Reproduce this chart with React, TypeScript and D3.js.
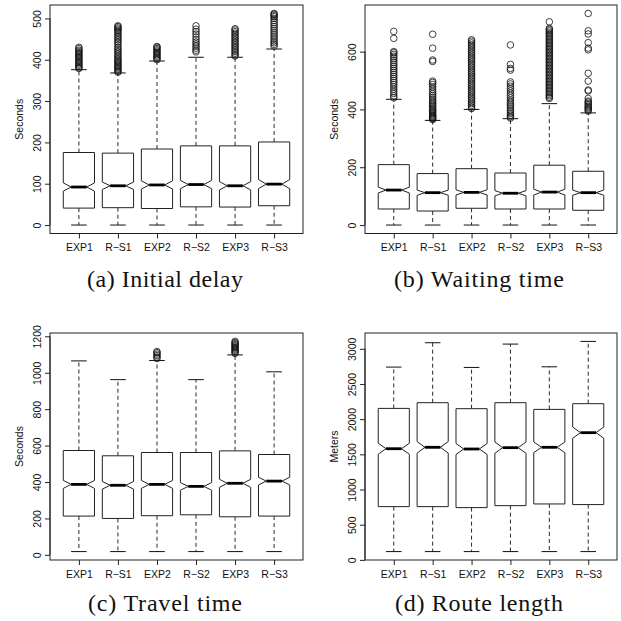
import * as d3 from 'd3';
import React, { useEffect, useRef } from 'react';

const groups = ['EXP1', 'R\u2212S1', 'EXP2', 'R\u2212S2', 'EXP3', 'R\u2212S3'];

// (a) Initial delay (seconds)
const delayLow = [0, 0, 0, 0, 0, 0];
const delayQ1 = [41, 42, 40, 44, 43.5, 46.7];
const delayMed = [92, 95, 97, 98, 95, 99];
const delayQ3 = [175.5, 174, 184, 191.6, 191.6, 201];
const delayHigh = [376, 368, 397, 406, 406, 426];
const delayNotch = [10, 9, 10, 10, 10, 11];
const delayOut = [
  [379, 381, 384, 387, 390, 393, 396, 399, 402, 405, 408, 411, 414, 417, 420, 423, 427, 430],
  [370, 372, 375, 378, 381, 384, 387, 390, 393, 396, 399, 402, 406, 410, 414, 418, 422, 426, 430, 435, 440, 444, 448, 452, 456, 460, 464, 468, 471, 474, 477, 480, 482],
  [400, 403, 406, 409, 412, 415, 418, 421, 424, 427, 430, 432],
  [419, 423, 428, 433, 438, 443, 449, 455, 462, 468, 474, 482],
  [409, 412, 416, 420, 424, 428, 432, 436, 440, 444, 448, 452, 456, 460, 464, 468, 472, 475],
  [433, 437, 441, 445, 450, 455, 460, 465, 470, 475, 480, 485, 490, 495, 500, 504, 507, 510, 512],
];
const delayTicks = [0, 100, 200, 300, 400, 500];

// (b) Waiting time (seconds)
const waitLow = [0, 0, 0, 0, 0, 0];
const waitQ1 = [55.5, 48.5, 58, 55.5, 55.5, 51];
const waitMed = [121, 112, 113, 110, 114, 112];
const waitQ3 = [209, 178, 195, 180, 207, 186];
const waitHigh = [435, 362, 400, 368, 420, 388];
const waitNotch = [10, 9, 9, 9, 10, 9];
const waitOut = [
  [440, 447, 455, 462, 470, 478, 486, 493, 500, 507, 514, 521, 528, 535, 542, 549, 556, 563, 570, 577, 584, 590, 596, 600, 646, 670],
  [365, 368, 371, 374, 377, 380, 384, 388, 392, 396, 400, 405, 410, 415, 420, 425, 430, 436, 442, 448, 455, 462, 470, 478, 486, 493, 498, 566, 571, 612, 660],
  [403, 408, 414, 420, 426, 432, 438, 444, 450, 456, 462, 468, 474, 480, 486, 492, 498, 504, 510, 516, 522, 528, 534, 540, 546, 552, 558, 564, 570, 576, 582, 588, 594, 600, 606, 612, 618, 624, 630, 636, 641],
  [370, 375, 380, 386, 392, 398, 405, 412, 418, 425, 432, 440, 448, 456, 464, 472, 480, 488, 495, 536, 542, 556, 623],
  [438, 442, 447, 452, 457, 462, 467, 472, 477, 482, 487, 492, 497, 502, 507, 512, 517, 522, 527, 532, 537, 542, 547, 552, 557, 562, 567, 572, 577, 582, 587, 592, 597, 602, 607, 612, 617, 622, 627, 632, 637, 642, 647, 652, 657, 662, 667, 672, 677, 680, 703],
  [394, 398, 402, 406, 410, 415, 420, 425, 429, 438, 464, 467, 498, 525, 606, 612, 631, 661, 672, 732],
];
const waitTicks = [0, 200, 400, 600];

// (c) Travel time (seconds)
const travelLow = [18, 18, 18, 18, 18, 18];
const travelQ1 = [213, 200, 215, 220, 209, 213];
const travelMed = [387, 382, 387, 376, 393, 405];
const travelQ3 = [573, 544, 562, 562, 571, 551];
const travelHigh = [1065, 962, 1067, 962, 1098, 1005];
const travelNotch = [22, 21, 22, 21, 22, 21];
const travelOut = [
  [],
  [],
  [1078, 1086, 1094, 1102, 1110, 1116],
  [],
  [1106, 1112, 1118, 1124, 1130, 1136, 1142, 1148, 1154, 1160, 1166, 1172],
  [],
];
const travelTicks = [0, 200, 400, 600, 800, 1000, 1200];

// (d) Route length (meters)
const routeLow = [118, 118, 118, 118, 118, 118];
const routeQ1 = [757, 757, 743, 771, 795, 786];
const routeMed = [1580, 1600, 1576, 1595, 1600, 1808];
const routeQ3 = [2153, 2234, 2149, 2234, 2139, 2220];
const routeHigh = [2740, 3086, 2735, 3067, 2744, 3105];
const routeNotch = [78, 82, 78, 80, 76, 80];
const routeOut = [[], [], [], [], [], []];
const routeTicks = [0, 500, 1000, 1500, 2000, 2500, 3000];

const captions = ['(a) Initial delay', '(b) Waiting time', '(c) Travel time', '(d) Route length'];

const sans = '"Liberation Sans", Arial, Helvetica, sans-serif';
const serif = '"Liberation Serif", "Times New Roman", serif';

interface Panel {
  left: number; right: number; top: number; bottom: number;
  low: number[]; q1: number[]; med: number[]; q3: number[]; high: number[];
  notch: number[]; out: number[][]; ticks: number[]; ylab: string;
  caption: string; capX: number; capY: number; capW: number;
}

function drawPanel(svg: d3.Selection<SVGSVGElement, unknown, null, undefined>, p: Panel) {
  const all = [...p.low, ...p.high, ...p.out.flat()];
  const lo = d3.min(all) as number;
  const hi = d3.max(all) as number;
  const pad = (hi - lo) * 0.04;
  const y = d3.scaleLinear().domain([lo - pad, hi + pad]).range([p.bottom, p.top]);
  const x = d3.scaleLinear().domain([0.26, groups.length + 0.74]).range([p.left, p.right]);
  const hw = 0.4;

  const g = svg.append('g');
  const stats = groups.map((name, k) => ({
    name, i: k + 1, low: p.low[k], q1: p.q1[k], med: p.med[k], q3: p.q3[k], high: p.high[k],
    nlo: p.med[k] - p.notch[k], nhi: p.med[k] + p.notch[k], out: p.out[k],
  }));

  const box = g.selectAll('g.box').data(stats).enter().append('g').attr('class', 'box');

  // whiskers
  box.append('line')
    .attr('x1', d => x(d.i)).attr('x2', d => x(d.i))
    .attr('y1', d => y(d.q3)).attr('y2', d => y(d.high))
    .attr('stroke', '#111').attr('stroke-width', 0.9).attr('stroke-dasharray', '4,3');
  box.append('line')
    .attr('x1', d => x(d.i)).attr('x2', d => x(d.i))
    .attr('y1', d => y(d.q1)).attr('y2', d => y(d.low))
    .attr('stroke', '#111').attr('stroke-width', 0.9).attr('stroke-dasharray', '4,3');
  ['high', 'low'].forEach(k => {
    box.append('line')
      .attr('x1', d => x(d.i - hw / 2)).attr('x2', d => x(d.i + hw / 2))
      .attr('y1', (d: any) => y(d[k])).attr('y2', (d: any) => y(d[k]))
      .attr('stroke', '#111').attr('stroke-width', 1);
  });

  // notched box
  const line = d3.line<[number, number]>().x(d => x(d[0])).y(d => y(d[1]));
  box.append('path')
    .attr('d', d => line([
      [d.i - hw, d.q1], [d.i - hw, d.nlo], [d.i - hw / 2, d.med], [d.i - hw, d.nhi], [d.i - hw, d.q3],
      [d.i + hw, d.q3], [d.i + hw, d.nhi], [d.i + hw / 2, d.med], [d.i + hw, d.nlo], [d.i + hw, d.q1],
    ]) + 'Z')
    .attr('fill', 'white').attr('stroke', '#222').attr('stroke-width', 1);

  // median
  box.append('line')
    .attr('x1', d => x(d.i - hw / 2)).attr('x2', d => x(d.i + hw / 2))
    .attr('y1', d => y(d.med)).attr('y2', d => y(d.med))
    .attr('stroke', '#000').attr('stroke-width', 2.8);

  // outliers
  box.selectAll('circle').data(d => d.out.map(v => ({ i: d.i, v }))).enter().append('circle')
    .attr('cx', d => x(d.i)).attr('cy', d => y(d.v)).attr('r', 3.3)
    .attr('fill', 'none').attr('stroke', '#111').attr('stroke-width', 0.8);

  // frame
  g.append('rect')
    .attr('x', p.left).attr('y', p.top)
    .attr('width', p.right - p.left).attr('height', p.bottom - p.top)
    .attr('fill', 'none').attr('stroke', '#222').attr('stroke-width', 1);

  // y axis
  const ya = g.append('g').attr('transform', `translate(${p.left},0)`)
    .call(d3.axisLeft(y).tickValues(p.ticks).tickSize(5).tickSizeOuter(0).tickFormat(d3.format('d')));
  ya.select('.domain').remove();
  ya.selectAll('.tick line').attr('stroke', '#222');
  ya.selectAll('.tick text')
    .attr('transform', 'rotate(-90)').attr('x', 0).attr('y', -9.5).attr('dy', 0)
    .attr('text-anchor', 'middle')
    .style('font-family', sans).style('font-size', '10.5px').attr('fill', '#111');
  g.append('line')
    .attr('x1', p.left).attr('x2', p.left)
    .attr('y1', y(p.ticks[0])).attr('y2', y(p.ticks[p.ticks.length - 1]))
    .attr('stroke', '#222');

  // x axis
  const xa = g.append('g').attr('transform', `translate(0,${p.bottom})`)
    .call(d3.axisBottom(x).tickValues(d3.range(1, groups.length + 1)).tickSize(5).tickSizeOuter(0)
      .tickFormat(d => groups[(d as number) - 1]));
  xa.select('.domain').remove();
  xa.selectAll('.tick line').attr('stroke', '#222');
  xa.selectAll('.tick text').attr('y', 17.5).attr('dy', 0)
    .style('font-family', sans).style('font-size', '10.5px').attr('fill', '#111');

  // y label
  g.append('text')
    .attr('transform', `translate(${p.left - 27},${(p.top + p.bottom) / 2}) rotate(-90)`)
    .attr('text-anchor', 'middle')
    .style('font-family', sans).style('font-size', '10.5px').attr('fill', '#111')
    .text(p.ylab);

  // caption
  g.append('text')
    .attr('x', p.capX).attr('y', p.capY)
    .attr('text-anchor', 'middle')
    .attr('textLength', p.capW).attr('lengthAdjust', 'spacing')
    .style('font-family', serif).style('font-size', '24px').attr('fill', '#111')
    .text(p.caption);
}

export default function App() {
  const ref = useRef<SVGSVGElement>(null);

  useEffect(() => {
    if (!ref.current) return;
    const svg = d3.select(ref.current);
    svg.selectAll('*').remove();

    const panels: Panel[] = [
      { left: 50, right: 303, top: 5, bottom: 233.5, low: delayLow, q1: delayQ1, med: delayMed, q3: delayQ3, high: delayHigh, notch: delayNotch, out: delayOut, ticks: delayTicks, ylab: 'Seconds', caption: captions[0], capX: 165, capY: 287, capW: 156 },
      { left: 365, right: 617, top: 5, bottom: 233.5, low: waitLow, q1: waitQ1, med: waitMed, q3: waitQ3, high: waitHigh, notch: waitNotch, out: waitOut, ticks: waitTicks, ylab: 'Seconds', caption: captions[1], capX: 479, capY: 287, capW: 170 },
      { left: 50, right: 303, top: 333, bottom: 560, low: travelLow, q1: travelQ1, med: travelMed, q3: travelQ3, high: travelHigh, notch: travelNotch, out: travelOut, ticks: travelTicks, ylab: 'Seconds', caption: captions[2], capX: 165, capY: 611, capW: 154 },
      { left: 365, right: 617, top: 333, bottom: 560, low: routeLow, q1: routeQ1, med: routeMed, q3: routeQ3, high: routeHigh, notch: routeNotch, out: routeOut, ticks: routeTicks, ylab: 'Meters', caption: captions[3], capX: 479, capY: 611, capW: 168 },
    ];
    panels.forEach(p => drawPanel(svg, p));
  }, []);

  return (
    <svg ref={ref} width={621} height={621}
      style={{ position: 'absolute', left: 0, top: 0, background: 'white' }} />
  );
}
